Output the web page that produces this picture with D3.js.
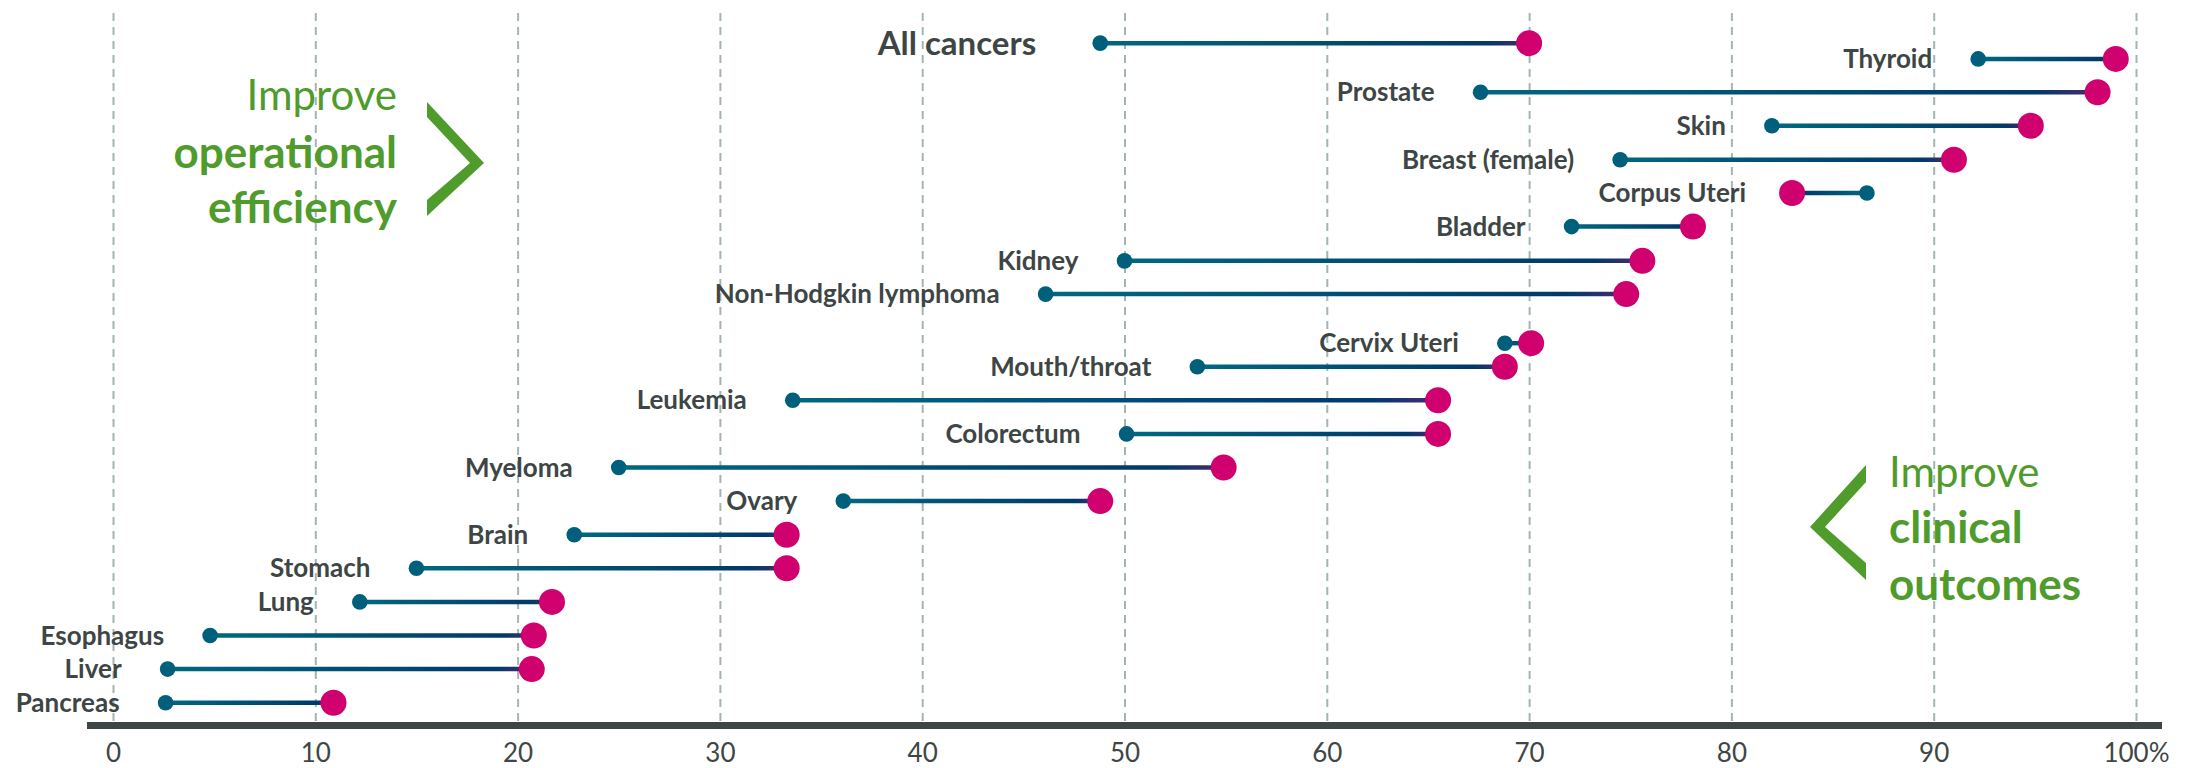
<!DOCTYPE html>
<html>
<head>
<meta charset="utf-8">
<script src="https://cdn.jsdelivr.net/npm/d3@7"></script>
<style>
  body { margin: 0; background: #fff; }
  svg { display: block; font-family: Lato, "Open Sans", sans-serif; }
</style>
</head>
<body>
<div id="chart"></div>
<script>

// cancer sites, top to bottom
var sites = ["All cancers", "Thyroid", "Prostate", "Skin", "Breast (female)", "Corpus Uteri",
  "Bladder", "Kidney", "Non-Hodgkin lymphoma", "Cervix Uteri", "Mouth/throat", "Leukemia",
  "Colorectum", "Myeloma", "Ovary", "Brain", "Stomach", "Lung", "Esophagus", "Liver", "Pancreas"];

// earlier survival rate (%) - teal dot
var earlier = [48.8, 92.2, 67.6, 82.0, 74.5, 86.7, 72.1, 50.0, 46.1, 68.8, 53.6, 33.6,
  50.1, 25.0, 36.1, 22.8, 15.0, 12.2, 4.8, 2.7, 2.6];

// later survival rate (%) - pink dot
var later = [70.0, 99.0, 98.1, 94.8, 91.0, 83.0, 78.1, 75.6, 74.8, 70.1, 68.8, 65.5,
  65.5, 54.9, 48.8, 33.3, 33.3, 21.7, 20.8, 20.7, 10.9];

// row value on the vertical scale (1 = bottom row)
var rowValue = [20.63, 20.16, 19.17, 18.17, 17.16, 16.17, 15.17, 14.15, 13.16, 11.7, 11, 10,
  9, 8, 7, 6, 5, 4, 3, 2, 1];

var xTicks = [0, 10, 20, 30, 40, 50, 60, 70, 80, 90, 100];

var svgWidth = 2195;
var svgHeight = 768;

var svg = d3.select("#chart")
  .append("svg")
  .attr("width", svgWidth)
  .attr("height", svgHeight);

var data = sites.map((s, i) => ({site: s, from: earlier[i], to: later[i], row: rowValue[i]}));

var xScale = d3.scaleLinear()
  .domain([0, 100])
  .range([113, 2136]);

var yScale = d3.scaleLinear()
  .domain([1, 20])
  .range([702.7, 64.3]);

var axisY = 725.5;

// dashed vertical gridlines
var grid = svg.append("g")
  .attr("transform", `translate(0, 721)`)
  .call(d3.axisBottom(xScale).tickValues(xTicks).tickSize(-708).tickFormat(""));
grid.select(".domain").remove();
grid.selectAll("line")
  .attr("stroke", "#a3b5b2")
  .attr("stroke-width", 2)
  .attr("stroke-dasharray", "8,6");

// x axis labels
var xAxis = svg.append("g")
  .attr("transform", `translate(0, ${axisY})`)
  .call(d3.axisBottom(xScale)
    .tickValues(xTicks)
    .tickSize(0)
    .tickPadding(18)
    .tickFormat(d => d === 100 ? "100%" : d));
xAxis.select(".domain").remove();
xAxis.selectAll("text")
  .attr("fill", "#404646")
  .style("font-family", "Lato, sans-serif")
  .style("font-size", "26px");

// thick baseline
svg.append("line")
  .attr("x1", 87)
  .attr("x2", 2162)
  .attr("y1", axisY)
  .attr("y2", axisY)
  .attr("stroke", "#3e4545")
  .attr("stroke-width", 7);

// gradients for connecting bars
var defs = svg.append("defs");
data.forEach((d, i) => {
  var g = defs.append("linearGradient")
    .attr("id", "grad" + i)
    .attr("gradientUnits", "userSpaceOnUse")
    .attr("x1", xScale(d.from))
    .attr("x2", xScale(d.to))
    .attr("y1", 0)
    .attr("y2", 0);
  g.append("stop").attr("offset", "0%").attr("stop-color", "#00687f");
  g.append("stop").attr("offset", "90%").attr("stop-color", "#00396a");
  g.append("stop").attr("offset", "100%").attr("stop-color", "#4a2a6e");
});

var rows = svg.append("g");

rows.selectAll(".bar")
  .data(data)
  .enter()
  .append("line")
    .attr("x1", d => xScale(d.from))
    .attr("x2", d => xScale(d.to))
    .attr("y1", d => yScale(d.row))
    .attr("y2", d => yScale(d.row))
    .attr("stroke", (d, i) => `url(#grad${i})`)
    .attr("stroke-width", 4.5);

rows.selectAll(".early")
  .data(data)
  .enter()
  .append("circle")
    .attr("cx", d => xScale(d.from))
    .attr("cy", d => yScale(d.row))
    .attr("r", 7.8)
    .attr("fill", "#005f7b");

rows.selectAll(".late")
  .data(data)
  .enter()
  .append("circle")
    .attr("cx", d => xScale(d.to))
    .attr("cy", d => yScale(d.row))
    .attr("r", 13)
    .attr("fill", "#d1006f");

rows.selectAll(".label")
  .data(data)
  .enter()
  .append("text")
    .attr("x", (d, i) => xScale(Math.min(d.from, d.to)) - (i === 0 ? 64 : 46))
    .attr("y", d => yScale(d.row))
    .attr("dy", "0.35em")
    .attr("text-anchor", "end")
    .attr("fill", "#3d4545")
    .style("font-weight", "bold")
    .style("font-size", (d, i) => i === 0 ? "33px" : "26px")
    .text(d => d.site);

// annotations
var green = "#4f9b2c";

var leftNote = svg.append("g").attr("fill", green).attr("text-anchor", "end");
leftNote.append("text").attr("x", 397).attr("y", 110).style("font-size", "42px").text("Improve");
leftNote.append("text").attr("x", 397).attr("y", 168).style("font-size", "44px").style("font-weight", "bold").text("operational");
leftNote.append("text").attr("x", 397).attr("y", 223).style("font-size", "44px").style("font-weight", "bold").text("efficiency");

svg.append("polygon")
  .attr("points", "427,102 484,163 427,216 427,200 470,163 427,117")
  .attr("fill", green);

var rightNote = svg.append("g").attr("fill", green).attr("text-anchor", "start");
rightNote.append("text").attr("x", 1889).attr("y", 487).style("font-size", "42px").text("Improve");
rightNote.append("text").attr("x", 1889).attr("y", 543).style("font-size", "44px").style("font-weight", "bold").text("clinical");
rightNote.append("text").attr("x", 1889).attr("y", 600).style("font-size", "44px").style("font-weight", "bold").text("outcomes");

svg.append("polygon")
  .attr("points", "1866,465 1810,527 1866,580 1866,563 1825,527 1866,482")
  .attr("fill", green);

</script>
</body>
</html>
